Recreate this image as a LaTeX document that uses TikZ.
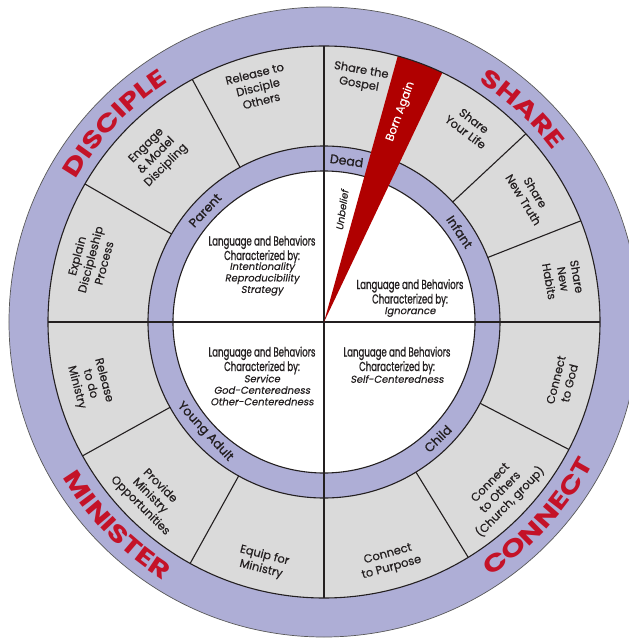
\documentclass[tikz,border=0pt]{standalone}
\usepackage{fontspec}
\setmainfont{Poppins}
\newfontfamily\ringfont[FakeBold=0.35]{Poppins}
\newfontfamily\lblfont[FakeBold=0.7]{Poppins}
\newfontfamily\condfont[FakeStretch=0.66,FakeBold=1.0]{Poppins}
\newfontfamily\obfont[FakeSlant=0.18,FakeBold=0.3]{Poppins}
\newfontfamily\titlefont[FakeStretch=1.3]{Poppins}
\usetikzlibrary{decorations.text}
\definecolor{lav}{RGB}{174,174,214}
\definecolor{ringgray}{RGB}{218,218,218}
\definecolor{wedgered}{RGB}{176,0,0}
\definecolor{titlered}{RGB}{196,18,40}
\definecolor{ink}{RGB}{35,31,32}
\tikzset{
  ringtxt/.style={font=\ringfont\fontsize{11.5}{14}\selectfont, align=center, text=ink, inner sep=0pt},
  lbltxt/.style={font=\lblfont\fontsize{12.5}{12.5}\selectfont, text=ink, inner sep=0pt},
  headtxt/.style={font=\condfont\fontsize{13}{14.5}\selectfont, align=center, text=ink, inner sep=0pt},
  bodytxt/.style={font=\obfont\fontsize{10}{11.5}\selectfont, align=center, text=ink, inner sep=0pt},
  divline/.style={line width=1.1pt, draw=ink},
}
\newcommand{\toparc}[4]{% text, center angle, radius, half span
  \path[decorate, decoration={text along path, text align=center, text={#1}}]
    ({#2+#4}:#3) arc[start angle={#2+#4}, end angle={#2-#4}, radius=#3];}
\newcommand{\botarc}[4]{%
  \path[decorate, decoration={text along path, text align=center, text={#1}}]
    ({#2-#4}:#3) arc[start angle={#2-#4}, end angle={#2+#4}, radius=#3];}
\begin{document}
\begin{tikzpicture}[x=1pt,y=1pt]
\useasboundingbox (-324,-316) rectangle (305,322);
\fill[white] (-324,-316) rectangle (305,322);
% rings
\fill[lav] (0,0) circle[radius=315];
\draw[gray!70!black, line width=0.7pt] (0,0) circle[radius=315];
\fill[ringgray] (0,0) circle[radius=276];
\fill[lav] (0,0) circle[radius=176];
\fill[white] (0,0) circle[radius=151];
\draw[divline] (0,0) circle[radius=176];
\draw[divline] (0,0) circle[radius=151];
% dividers
\foreach \a in {21.5,43,118.5,150,209,241,301.5,332.5}
  \draw[divline] (\a:176) -- (\a:276);
\draw[divline] (-276,0) -- (276,0);
\draw[divline] (0,-276) -- (0,276);
% wedge
\fill[wedgered] (0,0) -- (74.5:276) arc[start angle=74.5, end angle=64.6, radius=276] -- cycle;
\draw[divline] (0,0) circle[radius=276];
% titles
\toparc{|\titlefont\bfseries\fontsize{24}{24}\selectfont\color{titlered}|DISCIPLE}{136.5}{286}{40}
\toparc{|\titlefont\bfseries\fontsize{24}{24}\selectfont\color{titlered}|SHARE}{47}{286}{40}
\botarc{|\titlefont\bfseries\fontsize{24}{24}\selectfont\color{titlered}|MINISTER}{224.5}{304}{40}
\botarc{|\titlefont\bfseries\fontsize{24}{24}\selectfont\color{titlered}|CONNECT}{317.7}{304}{40}
% inner ring labels
\node[lbltxt, rotate=-8] (dead) at (82:163) {Dead};
\node[lbltxt, rotate=-56.4] (infant) at (33.6:163) {Infant};
\node[lbltxt, rotate=46.8] (parent) at (136.8:163) {Parent};
\node[lbltxt, rotate=44.3] (child) at (314.3:163) {Child};
\node[lbltxt, rotate=-47.3] (youngadult) at (222.7:162) {Young Adult};
% gray ring texts
\node[ringtxt, rotate=-10] (gospel) at (81.6:247) {Share the\\Gospel};
\node[ringtxt, rotate=-37] (life) at (53.3:244) {Share\\Your Life};
\node[ringtxt, rotate=-58.5] (truth) at (31.5:241) {Share\\New Truth};
\node[ringtxt, rotate=-80] (habits) at (10.2:243) {Share\\New\\Habits};
\node[ringtxt, rotate=14] (relothers) at (105.7:244) {Release to\\Disciple\\Others};
\node[ringtxt, rotate=45] (engage) at (135.2:236) {Engage\\\& Model\\Discipling};
\node[ringtxt, rotate=75] (explain) at (165:242) {Explain\\Discipleship\\Process};
\node[ringtxt, rotate=-75.2] (relmin) at (194.8:242) {Release\\to do\\Ministry};
\node[ringtxt, rotate=-45] (provide) at (225:246) {Provide\\Ministry\\Opportunities};
\node[ringtxt, rotate=-14.3] (equip) at (255.7:248) {Equip for\\Ministry};
\node[ringtxt, rotate=76] (cgod) at (346:246) {Connect\\to God};
\node[ringtxt, rotate=46] (cothers) at (316:246) {Connect\\to Others\\(Church, group)};
\node[ringtxt, rotate=15.4] (cpurpose) at (285.4:248) {Connect\\to Purpose};
% wedge and inner labels
\node[ringtxt, text=white, rotate=70] (born) at (70:224) {Born Again};
\node[bodytxt, rotate=82] (unbelief) at (18,112) {Unbelief};
% quadrant texts
\node[headtxt] (h1) at (-62,72.5) {Language and Behaviors\\Characterized by:};
\node[bodytxt] (b1) at (-62,43) {Intentionality\\Reproducibility\\Strategy};
\node[headtxt] (h2) at (86,29) {Language and Behaviors\\Characterized by:};
\node[bodytxt] (b2) at (86,10) {Ignorance};
\node[headtxt] (h3) at (-62,-38.5) {Language and Behaviors\\Characterized by:};
\node[bodytxt] (b3) at (-62,-68) {Service\\God-Centeredness\\Other-Centeredness};
\node[headtxt] (h4) at (73,-38.5) {Language and Behaviors\\Characterized by:};
\node[bodytxt] (b4) at (73,-57) {Self-Centeredness};
\end{tikzpicture}
\end{document}
